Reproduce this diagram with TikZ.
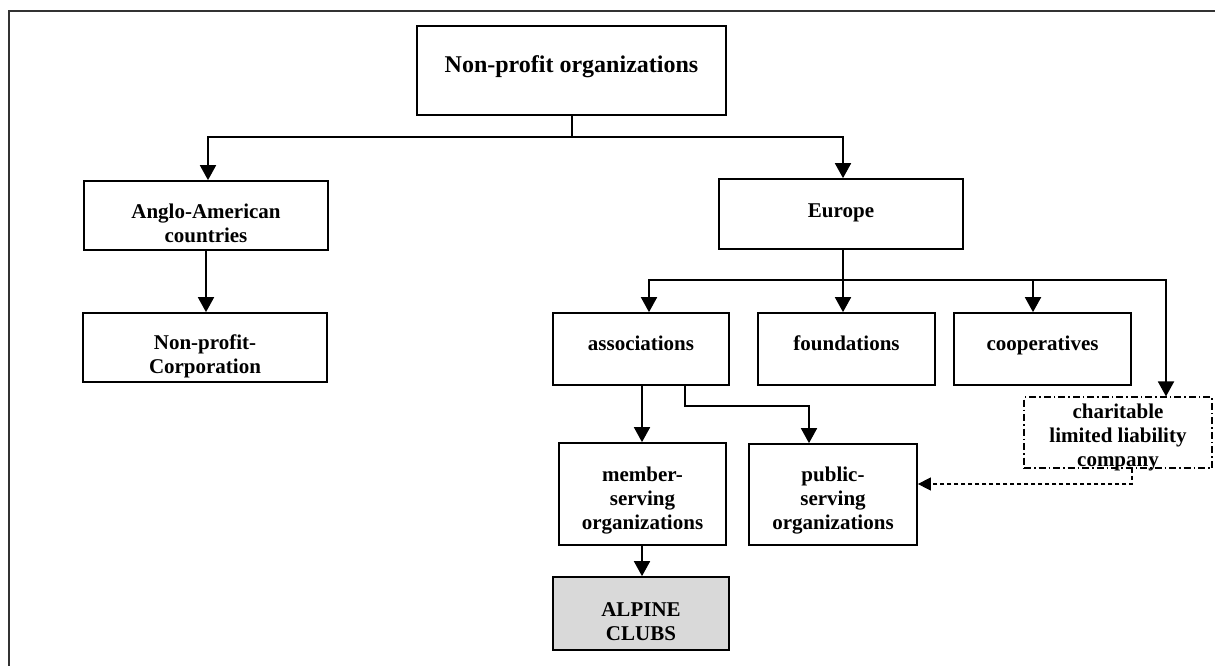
\documentclass[tikz,border=0pt]{standalone}
\usepackage{fontspec}
\setmainfont{Liberation Serif}
\usetikzlibrary{arrows.meta}
\begin{document}
\begin{tikzpicture}[x=1pt,y=-1pt,
  box/.style={draw, line width=1.7pt, rectangle, inner sep=0pt},
  dashbox/.style={draw, line width=1.1pt, rectangle, inner sep=0pt,
    dash pattern=on 7pt off 3pt on 1.5pt off 3pt},
  lbl/.style={font=\bfseries\fontsize{21}{24}\selectfont, align=center,
    anchor=base, inner sep=0pt},
  toplbl/.style={font=\bfseries\fontsize{24}{28}\selectfont, anchor=base, inner sep=0pt},
  wire/.style={line width=1.8pt},
  link/.style={line width=1.8pt, -{Triangle[width=16pt,length=15pt]}},
  dlink/.style={line width=1.1pt, dash pattern=on 4pt off 3pt,
    -{Triangle[width=13pt,length=13pt]}}]
\useasboundingbox (0,0) rectangle (1215,666);

% outer frame (top and left edges)
\draw[line width=2pt, black!80] (1215,11) -- (9,11) -- (9,666);

% boxes
\node[box, minimum width=309pt, minimum height=89pt] (root)   at (571.5,70.5) {};
\node[box, minimum width=244pt, minimum height=69pt] (anglo)  at (206,215.5) {};
\node[box, minimum width=244pt, minimum height=69pt] (npc)    at (205,347.5) {};
\node[box, minimum width=244pt, minimum height=70pt] (europe) at (841,214) {};
\node[box, minimum width=176pt, minimum height=72pt] (assoc)  at (641,349) {};
\node[box, minimum width=177pt, minimum height=72pt] (found)  at (846.5,349) {};
\node[box, minimum width=177pt, minimum height=72pt] (coop)   at (1042.5,349) {};
\node[dashbox, minimum width=188pt, minimum height=71pt] (charit) at (1118,432.5) {};
\node[box, minimum width=167pt, minimum height=102pt] (member) at (642.5,494) {};
\node[box, minimum width=168pt, minimum height=101pt] (public) at (833,494.5) {};
\node[box, fill=black!15, minimum width=176pt, minimum height=73pt] (alpine) at (641,613.5) {};

% labels (multi-line labels sit on the baseline of their last line)
\node[toplbl] (roottxt) at (571.5,73) {Non-profit organizations};
\node[lbl] (anglotxt)  at (206,242) {Anglo-American\\countries};
\node[lbl] (npctxt)    at (205,373) {Non-profit-\\Corporation};
\node[lbl] (europetxt) at (841,217) {Europe};
\node[lbl] (assoctxt)  at (641,350) {associations};
\node[lbl] (foundtxt)  at (846.5,350) {foundations};
\node[lbl] (cooptxt)   at (1042.5,350) {cooperatives};
\node[lbl] (charittxt) at (1118,466) {charitable\\limited liability\\company};
\node[lbl] (membertxt) at (642.5,529) {member-\\serving\\organizations};
\node[lbl] (publictxt) at (833,529) {public-\\serving\\organizations};
\node[lbl] (alpinetxt) at (641,640) {ALPINE\\CLUBS};

% top level split
\draw[wire] ([xshift=0.5pt]root.south) -- ++(0,21.5) coordinate (rootbus);
\draw[link] (rootbus) -| ([xshift=2pt]anglo.north);
\draw[link] (rootbus) -| ([xshift=2pt]europe.north);
\draw[link] (anglo.south) -- (npc.north -| anglo.south);

% Europe split
\draw[wire] ([xshift=2pt]europe.south) -- ++(0,30) coordinate (eubus);
\draw[link] (eubus) -| ([xshift=8pt]assoc.north);
\draw[link] (eubus) -- ([xshift=-3.5pt]found.north);
\draw[link] (eubus) -| ([xshift=-9.5pt]coop.north);
\draw[link] (eubus) -| ([xshift=48pt]charit.north);

% associations split
\draw[link] ([xshift=1pt]assoc.south) -- ([xshift=-0.5pt]member.north);
\draw[link] ([xshift=44pt]assoc.south) -- ++(0,20) -| ([xshift=-24pt]public.north);
\draw[link] ([xshift=-0.5pt]member.south) -- ([xshift=1pt]alpine.north);

% charitable company to public-serving organizations
\draw[dlink] ([xshift=14pt]charit.south) |- ([yshift=10.5pt]public.east);
\end{tikzpicture}
\end{document}
